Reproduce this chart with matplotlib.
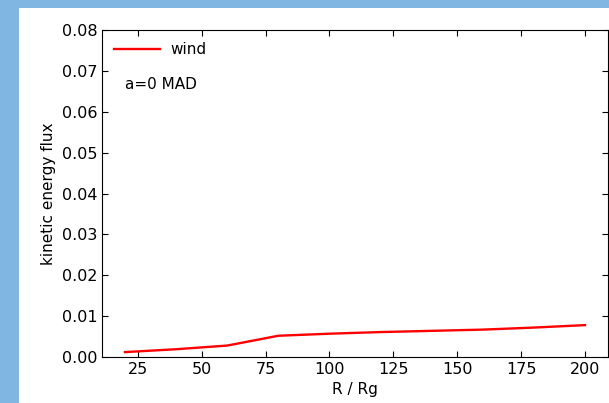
import matplotlib
matplotlib.use("Agg")
import matplotlib.pyplot as plt
from matplotlib.patches import Rectangle

# ---- data ----
radius = [20, 40, 60, 80, 100, 120, 140, 160, 180, 200]
wind_flux = [0.0012, 0.0019, 0.0028, 0.0052, 0.0057, 0.0061, 0.0064, 0.0067, 0.0072, 0.0078]

W, H = 609, 403
fig = plt.figure(figsize=(W / 100, H / 100), dpi=100)
fig.patch.set_facecolor("#7FB6E2")
# white page area (left and top strip stay blue)
fig.patches.append(Rectangle((19 / W, 0), 1 - 19 / W, 1 - 8 / H,
                             transform=fig.transFigure, facecolor="white",
                             edgecolor="none", zorder=-5))

ax = fig.add_axes([102 / W, 1 - 357 / H, 506 / W, 327 / H])
ax.set_zorder(2)
ax.plot(radius, wind_flux, color="red", lw=1.7, label="wind")
ax.set_xlim(11, 209)
ax.set_ylim(0, 0.08)
ax.set_xticks([25, 50, 75, 100, 125, 150, 175, 200])
ax.set_yticks([0, 0.01, 0.02, 0.03, 0.04, 0.05, 0.06, 0.07, 0.08])
ax.yaxis.set_major_formatter(matplotlib.ticker.FormatStrFormatter("%.2f"))
ax.tick_params(direction="in", top=True, right=True, labelsize=11.5, length=4)
ax.set_xlabel("R / Rg", fontsize=11)
ax.set_ylabel("kinetic energy flux", fontsize=11)
ax.legend(loc="upper left", frameon=False, fontsize=11, handlelength=3,
          handletextpad=0.65, borderaxespad=0.4)
ax.text(0.045, 0.832, "a=0 MAD", transform=ax.transAxes, fontsize=11,
        ha="left", va="center")

fig.savefig("out.png", dpi=100)
